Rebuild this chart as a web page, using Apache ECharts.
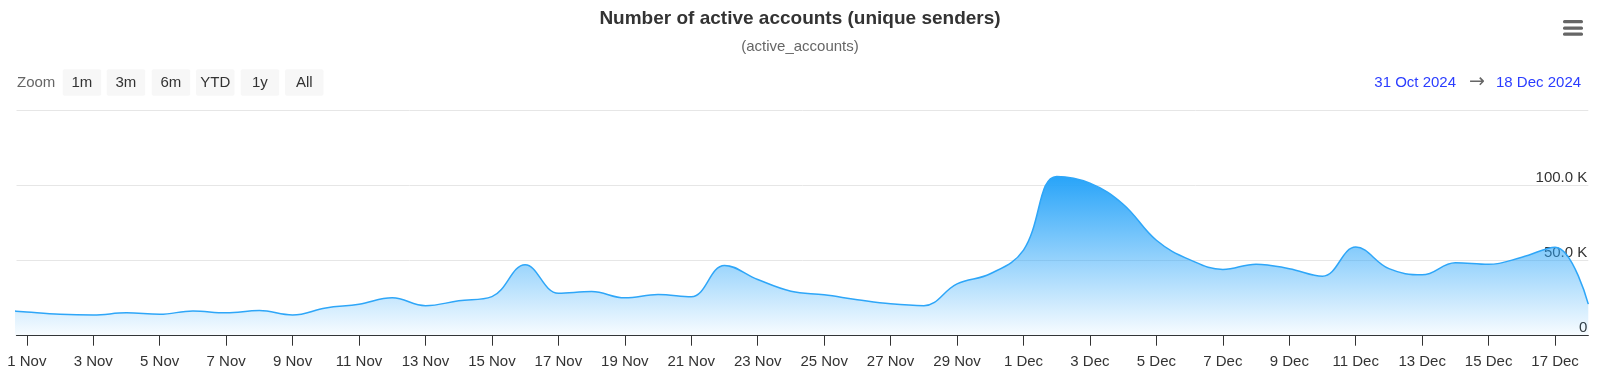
<!DOCTYPE html>
<html>
<head>
<meta charset="utf-8">
<script src="https://cdn.jsdelivr.net/npm/echarts@6/dist/echarts.min.js"></script>
<style>
html,body{margin:0;padding:0;background:#fff;}
#chart{width:1600px;height:392px;}
</style>
</head>
<body>
<div id="chart"></div>
<script>
// ---- data ----
const titleText = 'Number of active accounts (unique senders)';
const subtitleText = '(active_accounts)';
const dates = [
  '2024-10-31','2024-11-01','2024-11-02','2024-11-03','2024-11-04','2024-11-05','2024-11-06','2024-11-07',
  '2024-11-08','2024-11-09','2024-11-10','2024-11-11','2024-11-12','2024-11-13','2024-11-14','2024-11-15',
  '2024-11-16','2024-11-17','2024-11-18','2024-11-19','2024-11-20','2024-11-21','2024-11-22','2024-11-23',
  '2024-11-24','2024-11-25','2024-11-26','2024-11-27','2024-11-28','2024-11-29','2024-11-30','2024-12-01',
  '2024-12-02','2024-12-03','2024-12-04','2024-12-05','2024-12-06','2024-12-07','2024-12-08','2024-12-09',
  '2024-12-10','2024-12-11','2024-12-12','2024-12-13','2024-12-14','2024-12-15','2024-12-16','2024-12-17',
  '2024-12-18'
];
const activeAccounts = [
  17500, 15800, 14300, 13800, 15200, 14200, 16500, 15200,
  16700, 13800, 18500, 20900, 25200, 20000, 23200, 26000,
  47200, 28300, 29400, 25200, 27400, 26000, 46800, 37400,
  29600, 27200, 24000, 21200, 20000, 34500, 41200, 57000,
  106000, 101500, 87500, 63500, 50600, 44100, 47600, 44600,
  39600, 59000, 44600, 40500, 48600, 47500, 52200, 58900,
  21000
];
const tickDates = [
  '2024-11-01','2024-11-03','2024-11-05','2024-11-07','2024-11-09','2024-11-11','2024-11-13','2024-11-15',
  '2024-11-17','2024-11-19','2024-11-21','2024-11-23','2024-11-25','2024-11-27','2024-11-29','2024-12-01',
  '2024-12-03','2024-12-05','2024-12-07','2024-12-09','2024-12-11','2024-12-13','2024-12-15','2024-12-17'
];
const tickLabels = [
  '1 Nov','3 Nov','5 Nov','7 Nov','9 Nov','11 Nov','13 Nov','15 Nov',
  '17 Nov','19 Nov','21 Nov','23 Nov','25 Nov','27 Nov','29 Nov','1 Dec',
  '3 Dec','5 Dec','7 Dec','9 Dec','11 Dec','13 Dec','15 Dec','17 Dec'
];
const yTicks = [0, 50000, 100000, 150000];
const zoomButtons = ['1m','3m','6m','YTD','1y','All'];
const rangeFrom = '31 Oct 2024';
const rangeTo = '18 Dec 2024';

// ---- helpers ----
const FONT = '"Liberation Sans", Arial, Helvetica, sans-serif';
const origin = Date.UTC(2024, 10, 1);
function dayOf(s){ const p = s.split('-'); return (Date.UTC(+p[0], +p[1]-1, +p[2]) - origin) / 86400000; }
const seriesData = dates.map((d, i) => [dayOf(d), activeAccounts[i]]);
const tickDays = tickDates.map(dayOf);
const labelByDay = {};
tickDays.forEach((d, i) => { labelByDay[d] = tickLabels[i]; });

const chart = echarts.init(document.getElementById('chart'));

// zoom buttons graphics
const graphics = [];
graphics.push({type:'text', x: 17, y: 82.5, style:{text:'Zoom', font:'15px ' + FONT, fill:'#666', align:'left', verticalAlign:'middle'}});
const btnX = [62.7, 106.7, 151.7, 196, 240.7, 285];
zoomButtons.forEach((b, i) => {
  graphics.push({type:'rect', shape:{x:btnX[i], y:69.3, width:38.5, height:26.5, r:2}, style:{fill:'#f7f7f7'}});
  graphics.push({type:'text', x: btnX[i] + 19.25, y: 82.8, style:{text:b, font:'15px ' + FONT, fill:'#333', align:'center', verticalAlign:'middle'}});
});
graphics.push({type:'text', x: 1374.3, y: 82.5, style:{text:rangeFrom, font:'15px ' + FONT, fill:'#2b3dff', align:'left', verticalAlign:'middle'}});
graphics.push({type:'text', x: 1477, y: 82, style:{text:'\u2192', font:'19px "DejaVu Sans", sans-serif', fill:'#666', align:'center', verticalAlign:'middle'}});
graphics.push({type:'text', x: 1496, y: 82.5, style:{text:rangeTo, font:'15px ' + FONT, fill:'#2b3dff', align:'left', verticalAlign:'middle'}});
[20, 26.5, 32.5].forEach(y => {
  graphics.push({type:'rect', shape:{x:1563, y:y, width:20, height:3.2, r:1.5}, style:{fill:'#666'}});
});

chart.setOption({
  animation: false,
  backgroundColor: '#fff',
  textStyle: {fontFamily: FONT},
  title: {
    text: titleText,
    subtext: subtitleText,
    left: 'center',
    top: 9,
    padding: 0,
    itemGap: 11,
    textStyle: {fontSize: 19, fontWeight: 'bold', color: '#333', fontFamily: FONT},
    subtextStyle: {fontSize: 15, color: '#666', fontFamily: FONT}
  },
  grid: {left: 16.5, right: 11.7, top: 110.3, bottom: 56.3, containLabel: false},
  xAxis: {
    type: 'value',
    min: -0.31,
    max: 47,
    axisLine: {show: true, lineStyle: {color: '#333', width: 1.2}},
    axisTick: {show: true, customValues: tickDays, length: 10, lineStyle: {color: '#333', width: 1}},
    axisLabel: {
      show: true,
      customValues: tickDays,
      formatter: v => labelByDay[Math.round(v)] || '',
      fontSize: 15, color: '#333', margin: 19, fontFamily: FONT
    },
    splitLine: {show: false}
  },
  yAxis: {
    type: 'value',
    position: 'right',
    min: yTicks[0],
    max: yTicks[yTicks.length - 1],
    interval: yTicks[1] - yTicks[0],
    axisLine: {show: false},
    axisTick: {show: false},
    splitLine: {show: true, lineStyle: {color: '#e6e6e6', width: 1}},
    axisLabel: {
      inside: true,
      showMaxLabel: false,
      margin: 1,
      verticalAlign: 'bottom',
      padding: [0, 0, 0, 0],
      fontSize: 15, color: '#333', fontFamily: FONT,
      formatter: v => v === 0 ? '0' : (v / 1000).toFixed(1) + ' K'
    }
  },
  series: [{
    type: 'line',
    data: seriesData,
    smooth: 0.4,
    symbol: 'none',
    clip: true,
    lineStyle: {color: '#2ea6f8', width: 1.5},
    areaStyle: {
      opacity: 1,
      color: new echarts.graphic.LinearGradient(0, 0, 0, 1, [
        {offset: 0, color: 'rgba(40,164,249,1)'},
        {offset: 1, color: 'rgba(40,164,249,0.03)'}
      ])
    }
  }],
  graphic: graphics
});
</script>
</body>
</html>
